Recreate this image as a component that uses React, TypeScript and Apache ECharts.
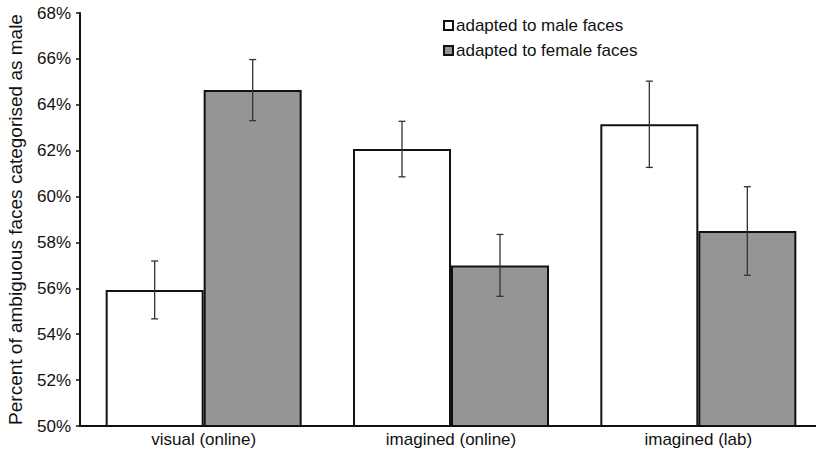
import React, { useEffect, useRef } from "react";
import * as echarts from "echarts";

const categories = ["visual (online)", "imagined (online)", "imagined (lab)"];
const seriesNames = ["adapted to male faces", "adapted to female faces"];
const maleValues = [55.93, 62.07, 63.15];
const femaleValues = [64.64, 57.0, 58.5];
const maleErrors = [1.26, 1.21, 1.88];
const femaleErrors = [1.33, 1.35, 1.93];
const yTicks = { min: 50, max: 68, interval: 2 };

const FONT = "'Liberation Sans', Arial, Helvetica, sans-serif";
const BAR_WIDTH = 98;

export default function App() {
  const ref = useRef<HTMLDivElement>(null);
  useEffect(() => {
    if (!ref.current) return;
    const chart = echarts.init(ref.current, undefined, { renderer: "svg" });

    const errorData: number[][] = [];
    maleValues.forEach((v, i) => errorData.push([i, v, maleErrors[i], -1]));
    femaleValues.forEach((v, i) => errorData.push([i, v, femaleErrors[i], 1]));

    chart.setOption({
      animation: false,
      backgroundColor: "#ffffff",
      textStyle: { fontFamily: FONT },
      grid: { left: 80, top: 13, bottom: 26, width: 742, outerBoundsMode: "none", containLabel: false },
      legend: {
        orient: "vertical",
        left: 438,
        top: 12,
        itemWidth: 9,
        itemHeight: 9,
        itemGap: 8,
        icon: "rect",
        textStyle: { fontSize: 17, color: "#111", fontFamily: FONT, padding: [0, 0, 0, -2], lineHeight: 17 },
        data: seriesNames,
      },
      xAxis: {
        type: "category",
        data: categories,
        axisLine: { lineStyle: { color: "#111", width: 2 } },
        axisTick: { show: false },
        axisLabel: { fontSize: 17, color: "#111", margin: 5, fontFamily: FONT },
      },
      yAxis: {
        type: "value",
        min: yTicks.min,
        max: yTicks.max,
        interval: yTicks.interval,
        name: "Percent of ambiguous faces categorised as male",
        nameLocation: "middle",
        nameGap: 55,
        nameTextStyle: { fontSize: 19, color: "#111", fontFamily: FONT },
        splitLine: { show: false },
        axisLine: { show: true, lineStyle: { color: "#111", width: 2 } },
        axisTick: { show: true, length: 4, lineStyle: { color: "#111", width: 1.5 } },
        axisLabel: {
          fontSize: 17,
          color: "#111",
          margin: 9,
          fontFamily: FONT,
          formatter: (v: number) => `${v}%`,
        },
      },
      series: [
        {
          name: seriesNames[0],
          type: "bar",
          data: maleValues,
          barWidth: BAR_WIDTH,
          barGap: "0%",
          itemStyle: { color: "#ffffff", borderColor: "#111", borderWidth: 2 },
        },
        {
          name: seriesNames[1],
          type: "bar",
          data: femaleValues,
          barWidth: BAR_WIDTH,
          barGap: "0%",
          itemStyle: { color: "#959595", borderColor: "#111", borderWidth: 2 },
        },
        {
          type: "custom",
          z: 10,
          silent: true,
          data: errorData,
          renderItem: (params: any, api: any) => {
            const cat = api.value(0);
            const val = api.value(1);
            const err = api.value(2);
            const side = api.value(3);
            const top = api.coord([cat, val + err]);
            const bot = api.coord([cat, val - err]);
            const x = top[0] + side * (BAR_WIDTH / 2);
            const cap = 3.5;
            const style = { stroke: "#333", lineWidth: 1.3, fill: null };
            return {
              type: "group",
              children: [
                { type: "line", shape: { x1: x, y1: top[1], x2: x, y2: bot[1] }, style },
                { type: "line", shape: { x1: x - cap, y1: top[1], x2: x + cap, y2: top[1] }, style },
                { type: "line", shape: { x1: x - cap, y1: bot[1], x2: x + cap, y2: bot[1] }, style },
              ],
            };
          },
        },
      ],
    });
    return () => chart.dispose();
  }, []);
  return (
    <div
      ref={ref}
      style={{ position: "fixed", left: 0, top: 0, width: 816, height: 452, background: "#fff" }}
    />
  );
}
